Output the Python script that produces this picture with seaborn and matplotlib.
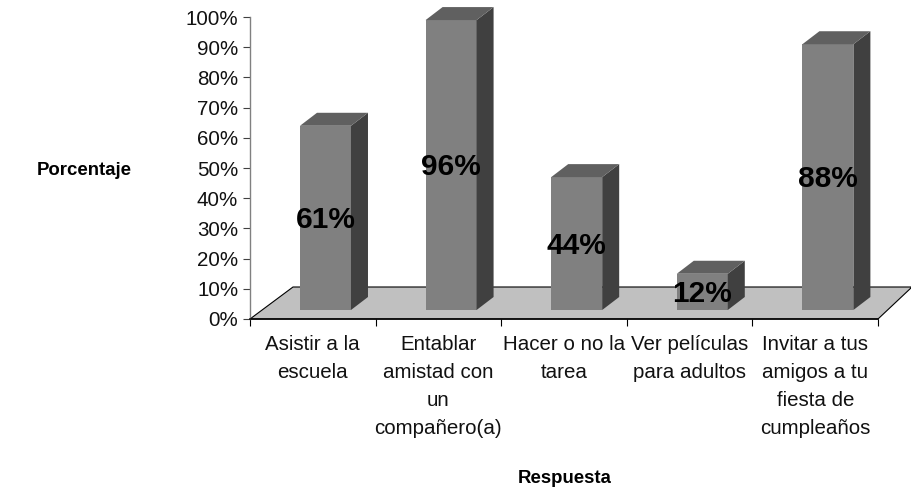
import matplotlib
matplotlib.use("Agg")
import matplotlib.pyplot as plt
import matplotlib.transforms as mtrans
from matplotlib.patches import Polygon
import pandas as pd
import seaborn as sns

categories = ["Asistir a la\nescuela", "Entablar\namistad con\nun\ncompañero(a)",
              "Hacer o no la\ntarea", "Ver películas\npara adultos",
              "Invitar a tus\namigos a tu\nfiesta de\ncumpleaños"]
values = [61, 96, 44, 12, 88]
value_labels = ["61%", "96%", "44%", "12%", "88%"]
y_ticks = list(range(0, 101, 10))
y_tick_labels = [f"{v}%" for v in y_ticks]

sns.set_theme(style="white")
plt.rcParams["font.family"] = ["Liberation Sans", "DejaVu Sans"]

W, H = 911, 493
fig = plt.figure(figsize=(W / 100, H / 100), dpi=100, facecolor="white")
ax = fig.add_axes([250 / W, (H - 319) / H, 628 / W, 302 / H])

df = pd.DataFrame({"Respuesta": categories, "Porcentaje": values})
sns.barplot(data=df, x="Respuesta", y="Porcentaje", color="#808080", saturation=1,
            width=0.406, linewidth=0, ax=ax, zorder=3)

left = -0.601
ax.set_xlim(left, left + 5)
ax.set_ylim(0, 100)
ax.set_xticks([left + i for i in range(6)])
ax.set_xticklabels([""] * 6)
ax.set_xticks([left + i + 0.5 for i in range(5)], minor=True)
ax.set_xticklabels(categories, minor=True, fontsize=14.8, linespacing=1.61, color="#111111")
ax.tick_params(axis="x", which="major", length=5, width=0.8, color="black", bottom=True)
ax.tick_params(axis="x", which="minor", length=0, pad=11.3)
ax.set_yticks(y_ticks)
ax.set_yticklabels(y_tick_labels, fontsize=14.8, color="#111111")
ax.tick_params(axis="y", length=5, width=0.8, color="#404040", left=True, pad=3.5)

for s in ("top", "right"):
    ax.spines[s].set_visible(False)
ax.spines["left"].set_color("#808080")
ax.spines["left"].set_linewidth(1.0)
ax.spines["bottom"].set_color("black")
ax.spines["bottom"].set_linewidth(1.1)

ax.set_ylabel("Porcentaje", rotation=0, fontsize=13.4, fontweight="bold", color="black",
              ha="center", va="center")
ax.yaxis.set_label_coords(-0.2635, 0.492)
ax.set_xlabel("Respuesta", fontsize=13.4, fontweight="bold", color="black",
              ha="center", va="center")
ax.xaxis.set_label_coords(0.5016, -0.529)

# floor, in pixel offsets from the axis baseline
def ax_off(x, dx, dy):
    return (x + dx / 628, dy / 302)
floor = Polygon([ax_off(0, 0, 0), ax_off(1, 0, 0), ax_off(1, 34, 32), ax_off(0, 43, 32)],
                closed=True, transform=ax.transAxes, facecolor="#c0c0c0",
                edgecolor="black", linewidth=0.8, clip_on=False, zorder=1)
ax.add_patch(floor)

# bars stand 9 px above the axis baseline, with side and top faces
BASE_DY = 9
DX, DY = 17, 13
shift = ax.transData + mtrans.Affine2D().translate(0, BASE_DY)
text_shift = ax.transData + mtrans.Affine2D().translate(0, BASE_DY - 2)
to_px = ax.transData
ident = mtrans.IdentityTransform()
for patch, val, lab in zip(list(ax.patches)[:len(values)], values, value_labels):
    if patch is floor:
        continue
    x0 = patch.get_x()
    x1 = x0 + patch.get_width()
    patch.set_transform(shift)
    patch.set_clip_on(False)
    (px0, py0), (px1, py1) = to_px.transform([(x0, 0), (x1, val)])
    py0 += BASE_DY
    py1 += BASE_DY
    side = [(px1, py0), (px1 + DX, py0 + DY), (px1 + DX, py1 + DY), (px1, py1)]
    top = [(px0, py1), (px1, py1), (px1 + DX, py1 + DY), (px0 + DX, py1 + DY)]
    ax.add_patch(Polygon(side, closed=True, transform=ident, facecolor="#404040",
                         edgecolor="none", clip_on=False, zorder=3))
    ax.add_patch(Polygon(top, closed=True, transform=ident, facecolor="#606060",
                         edgecolor="none", clip_on=False, zorder=3))
    ax.text((x0 + x1) / 2, val / 2, lab, transform=text_shift, ha="center", va="center",
            fontsize=21.5, fontweight="bold", color="black", zorder=5, clip_on=False)

fig.savefig("out.png", dpi=100, facecolor="white")
